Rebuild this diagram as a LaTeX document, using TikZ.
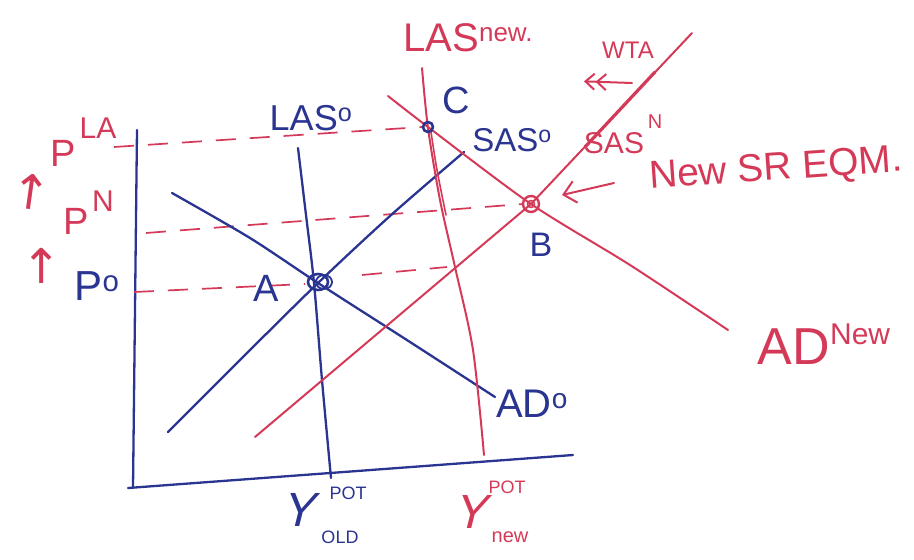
\documentclass[tikz,border=0pt]{standalone}
\usepackage{fontspec}
\setmainfont{Liberation Sans}
\newfontfamily\djv{DejaVu Sans}
\usetikzlibrary{arrows.meta}
\definecolor{blueink}{RGB}{42,52,145}
\definecolor{redink}{RGB}{212,58,88}
\newcommand{\fs}[1]{\fontsize{#1}{#1}\selectfont}
\tikzset{
  barbtip/.tip={Straight Barb[length=9pt,width=16pt,line width=2pt]},
  barbsep/.tip={Straight Barb[length=9pt,width=16pt,line width=2pt,sep=10pt]},
  bigbarb/.tip={Straight Barb[length=12pt,width=22pt,line width=2pt]},
}
\begin{document}
\begin{tikzpicture}[x=1pt,y=-1pt,
  bl/.style={draw=blueink,line width=2.3pt,line cap=round,line join=round},
  rd/.style={draw=redink,line width=2pt,line cap=round,line join=round},
  rdash/.style={draw=redink,line width=1.7pt,dash pattern=on 20pt off 14pt},
  btxt/.style={text=blueink,inner sep=0pt},
  rtxt/.style={text=redink,inner sep=0pt},
]
\useasboundingbox (0,0) rectangle (914,560);

% points
\coordinate (A) at (318,282);
\coordinate (B) at (531,204);
\coordinate (C) at (428,127);

% axes
\draw[bl] (137,130) -- (133,488);
\draw[bl] (128,488) -- (573,455);

% dashed price lines
\coordinate (pla) at (114,147);
\coordinate (pn) at (146,233);
\coordinate (po) at (134,292);
\coordinate (pogap) at (305,284);
\coordinate (po2a) at (362,275);
\coordinate (po2b) at (447,267);
\draw[rdash] (pla) -- ([xshift=-6pt]C);
\draw[rdash] (pn) -- ([xshift=-8pt]B);
\draw[rdash] (po) -- (pogap);
\draw[rdash] (po2a) -- (po2b);

% blue curves
\draw[bl] plot[smooth] coordinates {(298,148) (306,215) (314,283) (322,380) (331,478)};
\draw[bl] plot[smooth] coordinates {(172,193) (250,238) (318,283) (410,342) (495,397)};
\draw[bl] plot[smooth] coordinates {(168,432) (245,355) (318,283) (390,216) (464,152)};

% red curves
\draw[rd] plot[smooth] coordinates {(422,68) (428,128) (440,200) (455,267) (473,350) (484,455)};
\draw[rd,line width=1.6pt] plot[smooth] coordinates {(431,132) (437,170) (446,215)};
\draw[rd] plot[smooth] coordinates {(388,96) (428,127) (531,204) (630,265) (728,330)};
\draw[rd] (255,437) -- (B) -- (692,33);
\draw[rd,line width=3.2pt] (585,147) -- (655,72);

% equilibrium points
\draw[bl,line width=2.6pt] (A) ellipse (10 and 8);
\draw[bl,line width=1.8pt] ([xshift=6pt]A) ellipse (8 and 7);
\draw[rd,line width=2.4pt] (B) circle (8);
\draw[rd,line width=1.6pt] (B) circle (3.5);
\draw[bl,line width=2.6pt] (C) circle (5);

% arrows
\coordinate (w1) at (574,81);
\coordinate (w2) at (632,83);
\draw[rd,{barbsep[]barbtip[]}-] (w1) -- (w2);
\coordinate (e1) at (562,195);
\coordinate (e2) at (614,183);
\draw[rd,{bigbarb[]}-] (e1) -- (e2);

% labels blue
\node[btxt] (lLAS0) at (311,118) {\fs{36}LAS\textsuperscript{o}};
\node[btxt] (lC) at (456,100) {\fs{38}C};
\node[btxt] (lSAS0) at (512,140) {\fs{33}SAS\textsuperscript{o}};
\node[btxt] (lA) at (266,288) {\fs{38}A};
\node[btxt] (lB) at (541,245) {\fs{34}B};
\node[btxt] (lAD0) at (532,404) {\fs{40}AD\textsuperscript{o}};
\node[btxt] (lP0) at (97,286) {\fs{42}P\textsuperscript{o}};
\node[btxt,xslant=0.25] (lYold) at (302,510) {\fs{48}Y};
\node[btxt] (lYoldsup) at (348,493) {\fs{18}POT};
\node[btxt] (lYoldsub) at (340,537) {\fs{18}OLD};

% labels red
\node[rtxt] (lLASn) at (468,38) {\fs{40}LAS\raisebox{10pt}{\fs{26}new.}};
\node[rtxt] (lADn) at (824,344) {\fs{52}AD\raisebox{20pt}{\fs{30}New}};
\node[rtxt] (lSASn) at (614,143) {\fs{30}SAS};
\node[rtxt] (lSASns) at (655,122) {\fs{20}N};
\node[rtxt] (lWTA) at (628,50) {\fs{24}WTA};
\node[rtxt,rotate=4] (lEQM) at (776,170) {\fs{39}New SR EQM.};
\node[rtxt,xslant=0.25] (lYnew) at (474,512) {\fs{48}Y};
\node[rtxt] (lYnewsup) at (507,487) {\fs{18}POT};
\node[rtxt] (lYnewsub) at (510,537) {\fs{20}new};
\node[rtxt] (lPLAp) at (63,153) {\fs{38}P};
\node[rtxt] (lPLAs) at (98,128) {\fs{30}LA};
\node[rtxt,rotate=-8] (lup1) at (31,192) {\djv\fs{48}↑};
\node[rtxt] (lPNp) at (76,221) {\fs{38}P};
\node[rtxt] (lPNs) at (103,201) {\fs{30}N};
\node[rtxt] (lup2) at (42,266) {\djv\fs{48}↑};
\end{tikzpicture}
\end{document}
